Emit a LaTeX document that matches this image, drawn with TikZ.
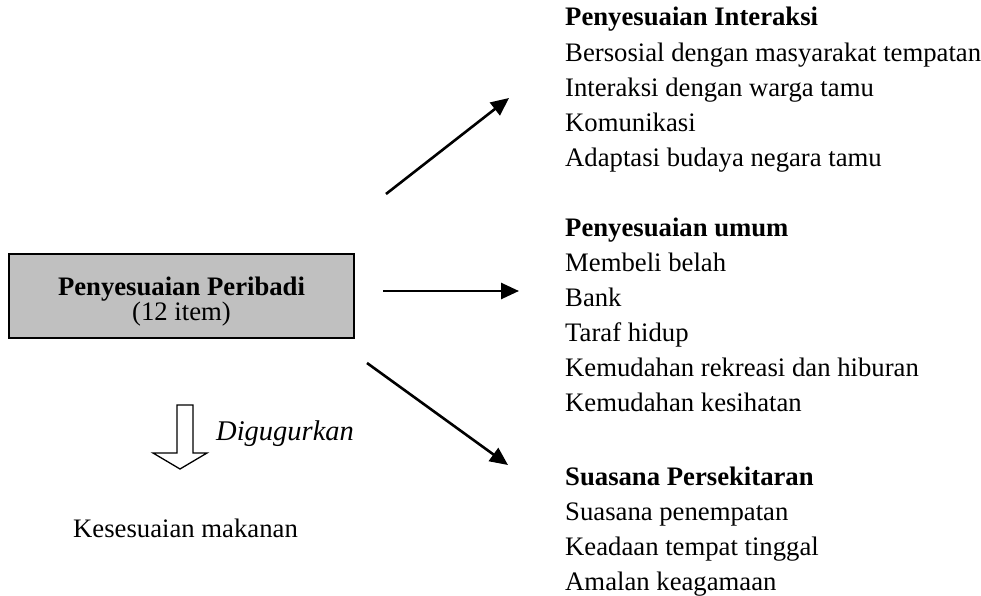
\documentclass[tikz,border=0pt]{standalone}
\usepackage{fontspec}
\setmainfont{Liberation Serif}
\usetikzlibrary{arrows.meta}
\definecolor{boxgray}{HTML}{C0C0C0}
\newcommand{\fsz}{\fontsize{26.7}{30}\selectfont}
\tikzset{
  txt/.style={anchor=base west, inner sep=0pt, font=\fsz},
  hd/.style={txt, font=\fsz\bfseries},
  conn/.style={line width=2.6pt, -{Triangle[length=18pt,width=16pt]}},
  mainbox/.style={draw=black, line width=2pt, fill=boxgray, minimum width=345pt, minimum height=84pt, inner sep=0pt}
}
\begin{document}
\begin{tikzpicture}[x=1pt,y=-1pt]
\useasboundingbox (0,0) rectangle (981,596);
% main box
\node[mainbox] (box) at (181.5,296) {};
\node[anchor=base, inner sep=0pt, font=\fsz\bfseries] (boxt) at (181.5,295) {Penyesuaian Peribadi};
\node[anchor=base, inner sep=0pt, font=\fsz] (boxs) at (181.5,320) {(12 item)};
% group 1
\node[hd] (g1h) at (565,26) {Penyesuaian Interaksi};
\node[txt] (g1a) at (565,61.5) {Bersosial dengan masyarakat tempatan};
\node[txt] (g1b) at (565,96.5) {Interaksi dengan warga tamu};
\node[txt] (g1c) at (565,131.5) {Komunikasi};
\node[txt] (g1d) at (565,166.5) {Adaptasi budaya negara tamu};
% group 2
\node[hd] (g2h) at (565,236) {Penyesuaian umum};
\node[txt] (g2a) at (565,271) {Membeli belah};
\node[txt] (g2b) at (565,306) {Bank};
\node[txt] (g2c) at (565,341) {Taraf hidup};
\node[txt] (g2d) at (565,376) {Kemudahan rekreasi dan hiburan};
\node[txt] (g2e) at (565,411) {Kemudahan kesihatan};
% group 3
\node[hd] (g3h) at (565,485) {Suasana Persekitaran};
\node[txt] (g3a) at (565,520) {Suasana penempatan};
\node[txt] (g3b) at (565,555) {Keadaan tempat tinggal};
\node[txt] (g3c) at (565,590) {Amalan keagamaan};
% dropped
\node[txt, font=\fontsize{28.5}{30}\selectfont\itshape] (drop) at (216,440) {Digugurkan};
\node[txt] (food) at (73,537) {Kesesuaian makanan};
% connectors
\coordinate (s1) at (386,194); \coordinate (e1) at (509,98);
\coordinate (s2) at (383,291); \coordinate (e2) at (519,291);
\coordinate (s3) at (367,363); \coordinate (e3) at (508,465);
\draw[conn] (s1) -- (e1);
\draw[conn] (s2) -- (e2);
\draw[conn] (s3) -- (e3);
% hollow down arrow
\draw[line width=1.3pt, fill=white, line join=miter]
  (177,405) -- (193,405) -- (193,453) -- (207,453) -- (180,469) -- (153,453) -- (177,453) -- cycle;
\end{tikzpicture}
\end{document}
